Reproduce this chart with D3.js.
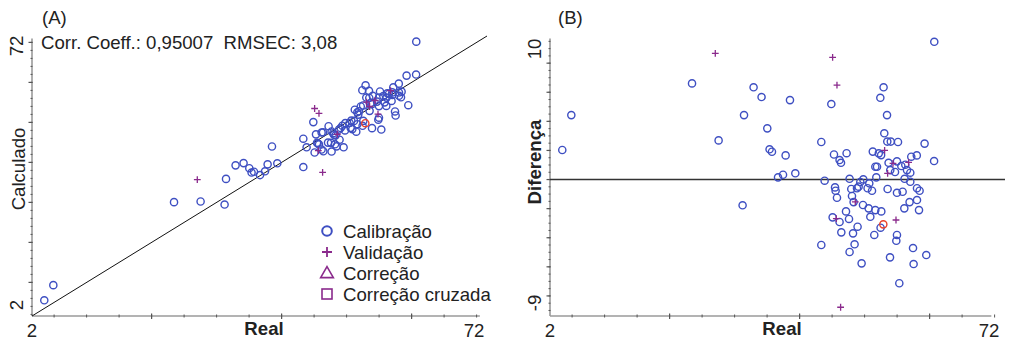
<!DOCTYPE html>
<html>
<head>
<meta charset="utf-8">
<script src="https://cdn.jsdelivr.net/npm/d3@7"></script>
<style>
  body { margin: 0; background: #fff; }
  svg { font-family: "Liberation Sans", Arial, sans-serif; }
</style>
</head>
<body>
<svg id="chart" width="1015" height="340"></svg>
<script>
// calibration samples: reference value, predicted value, difference (pred - ref)
var realCal = [60.72, 23.45, 32.92, 52.92, 34.15, 52.42, 38.52, 44.88, 4.88, 31.45,
  53.45, 35.03, 53.03, 27.54, 43.34, 53.49, 54.03, 55.14, 59.23, 3.49,
  35.38, 35.75, 37.85, 45.29, 47.23, 51.26, 52.18, 52.54, 46.15, 46.37,
  53.69, 54.98, 57.18, 58.03, 60.69, 51.65, 51.91, 53.95, 54.68, 55.65,
  56.26, 56.52, 57.03, 36.68, 37.45, 39.34, 43.85, 47.69, 49.80, 49.34,
  50.72, 51.80, 56.15, 57.03, 45.45, 45.54, 45.75, 47.95, 48.83, 49.08,
  50.46, 51.14, 53.54, 54.98, 55.85, 58.06, 58.46, 48.06, 48.31, 49.75,
  50.62, 51.65, 52.57, 47.14, 56.92, 58.06, 56.11, 58.37, 50.88, 45.08,
  46.15, 47.60, 52.46, 48.92, 46.42, 48.22, 51.49, 54.98, 54.88, 43.34,
  48.46, 47.69, 57.45, 59.49, 53.91, 49.54, 57.54, 55.34, 31.23];
var calcCal = [70.19, 30.06, 39.26, 59.26, 39.82, 58.04, 43.98, 50.07, 9.31, 35.88,
  57.88, 38.55, 56.21, 30.23, 45.92, 56.10, 56.64, 57.72, 61.70, 5.52,
  37.46, 37.66, 39.51, 47.01, 49.04, 53.18, 53.98, 54.22, 47.49, 47.52,
  54.84, 56.23, 58.75, 59.69, 61.96, 52.53, 52.79, 54.60, 55.20, 56.58,
  57.28, 57.17, 57.50, 36.83, 37.78, 39.77, 43.77, 47.74, 49.81, 49.17,
  50.46, 51.95, 56.20, 56.88, 44.91, 44.77, 44.50, 47.30, 48.23, 48.59,
  49.86, 50.37, 52.89, 54.07, 55.01, 57.46, 57.69, 46.93, 46.76, 48.00,
  48.64, 49.55, 50.38, 44.95, 55.37, 56.65, 54.13, 56.27, 48.32, 42.48,
  43.23, 44.89, 49.15, 45.68, 42.79, 44.52, 47.68, 51.17, 50.67, 38.84,
  44.01, 42.71, 52.74, 54.30, 48.56, 43.78, 51.73, 48.21, 29.46];
var diffCal = [9.47, 6.61, 6.34, 6.34, 5.67, 5.62, 5.46, 5.19, 4.43, 4.43,
  4.43, 3.52, 3.18, 2.69, 2.58, 2.61, 2.61, 2.58, 2.47, 2.03,
  2.08, 1.91, 1.66, 1.72, 1.81, 1.92, 1.80, 1.68, 1.34, 1.15,
  1.15, 1.25, 1.57, 1.66, 1.27, 0.88, 0.88, 0.65, 0.52, 0.93,
  1.02, 0.65, 0.47, 0.15, 0.33, 0.43, -0.08, 0.05, 0.01, -0.17,
  -0.26, 0.15, 0.05, -0.15, -0.54, -0.77, -1.25, -0.65, -0.60, -0.49,
  -0.60, -0.77, -0.65, -0.91, -0.84, -0.60, -0.77, -1.13, -1.55, -1.75,
  -1.98, -2.10, -2.19, -2.19, -1.55, -1.41, -1.98, -2.10, -2.56, -2.60,
  -2.92, -2.71, -3.31, -3.24, -3.63, -3.70, -3.81, -3.81, -4.21, -4.50,
  -4.45, -4.98, -4.71, -5.19, -5.35, -5.76, -5.81, -7.13, -1.77];

// validation samples
var realVal = [27.03, 45.08, 45.75, 53.08, 54.37, 56.77, 53.54, 48.57, 45.65, 54.83, 46.31];
var calcVal = [35.70, 53.48, 52.24, 55.09, 55.48, 57.95, 53.97, 47.04, 42.96, 52.05, 37.53];
var diffVal = [8.67, 8.40, 6.49, 2.01, 1.11, 1.18, 0.43, -1.53, -2.69, -2.78, -8.78];

// highlighted sample (red circle)
var realMark = [52.88];
var calcMark = [49.80];
var diffMark = [-3.08];

var legendLabels = ['Calibração', 'Validação', 'Correção', 'Correção cruzada'];
var realTickLabels = ['2', '72'];
var calcTickLabels = ['2', '72'];
var diffTickLabels = ['-9', '10'];

var blue = '#3e4fc2', purple = '#8a2a8c', red = '#e8412c';
var axisColor = '#9a9a9a', tickColor = '#555', textColor = '#222';

var svg = d3.select('#chart');

var xA = d3.scaleLinear().domain([1.6, 71.6]).range([32, 487]);
var yA = d3.scaleLinear().domain([1.6, 71.6]).range([316, 36]);
var xB = d3.scaleLinear().domain([1.6, 71.6]).range([550, 1005]);
var yB = d3.scaleLinear().domain([-9.38, 9.73]).range([316, 38]);

var xMinor = d3.range(5, 71, 5), xMajor = [20, 40, 60];

var _xAxis = function (x, y0, xEnd) {
  var g = svg.append('g').attr('transform', 'translate(0,' + y0 + ')');
  g.append('line')
    .attr('x1', x.range()[0]).attr('x2', x(xEnd))
    .attr('stroke', axisColor).attr('stroke-width', 1.6);
  g.selectAll('.minor').data(xMinor).enter().append('line')
    .attr('x1', x).attr('x2', x)
    .attr('y1', -1.5).attr('y2', 1.5)
    .attr('stroke', tickColor).attr('stroke-width', 1);
  g.selectAll('.major').data(xMajor).enter().append('line')
    .attr('x1', x).attr('x2', x)
    .attr('y1', -2.5).attr('y2', 3)
    .attr('stroke', tickColor).attr('stroke-width', 1.2);
};

var _yAxis = function (y, x0, minor, major, yEnd) {
  var g = svg.append('g').attr('transform', 'translate(' + x0 + ',0)');
  g.append('line')
    .attr('y1', y.range()[0]).attr('y2', y(yEnd))
    .attr('stroke', axisColor).attr('stroke-width', 1.6);
  g.selectAll('.minor').data(minor).enter().append('line')
    .attr('y1', y).attr('y2', y)
    .attr('x1', -1.5).attr('x2', 0.5)
    .attr('stroke', tickColor).attr('stroke-width', 1);
  g.selectAll('.major').data(major).enter().append('line')
    .attr('y1', y).attr('y2', y)
    .attr('x1', -3.5).attr('x2', 0.5)
    .attr('stroke', tickColor).attr('stroke-width', 1.2);
};

var _text = function (x, y, str, opts) {
  opts = opts || {};
  var t = svg.append('text')
    .attr('x', x).attr('y', y)
    .attr('fill', textColor)
    .style('font-size', (opts.size || 18.6) + 'px')
    .style('white-space', 'pre')
    .attr('text-anchor', opts.anchor || 'start')
    .text(str);
  if (opts.bold) t.style('font-weight', 'bold');
  if (opts.rotate) t.attr('transform', 'rotate(-90,' + x + ',' + y + ')');
  return t;
};

var _plus = function (cx, cy, s) {
  return 'M' + (cx - s) + ',' + cy + 'H' + (cx + s) + 'M' + cx + ',' + (cy - s) + 'V' + (cy + s);
};

var _points = function (x, y, xs, ys, color) {
  svg.append('g').selectAll('circle').data(xs).enter().append('circle')
    .attr('cx', function (d) { return x(d); })
    .attr('cy', function (d, i) { return y(ys[i]); })
    .attr('r', 3.6)
    .attr('fill', 'none')
    .attr('stroke', color)
    .attr('stroke-width', 1.4);
};

var _pluses = function (x, y, xs, ys) {
  svg.append('g').selectAll('path').data(xs).enter().append('path')
    .attr('d', function (d, i) { return _plus(x(d), y(ys[i]), 3.4); })
    .attr('stroke', purple)
    .attr('stroke-width', 1.3)
    .attr('fill', 'none');
};

// ---------- panel A ----------
_xAxis(xA, 316, 70.5);
_yAxis(yA, 32, d3.range(2, 71, 2), d3.range(10, 71, 10), 71);

svg.append('line')
  .attr('x1', xA(1.6)).attr('y1', yA(1.6))
  .attr('x2', xA(71.6)).attr('y2', yA(71.6))
  .attr('stroke', '#111').attr('stroke-width', 1);

_points(xA, yA, realCal, calcCal, blue);
_pluses(xA, yA, realVal, calcVal);
_points(xA, yA, realMark, calcMark, red);

_text(42, 24, '(A)');
_text(41, 49, 'Corr. Coeff.: 0,95007  RMSEC: 3,08');
_text(xA(1.6), 337, realTickLabels[0], { anchor: 'middle' });
_text(474, 337, realTickLabels[1], { anchor: 'middle' });
_text(264, 335, 'Real', { anchor: 'middle', bold: true });
_text(23, 46, calcTickLabels[1], { anchor: 'middle', rotate: true });
_text(23, 305, calcTickLabels[0], { anchor: 'middle', rotate: true });
_text(25, 169, 'Calculado', { anchor: 'middle', rotate: true });

// legend
var legRows = [231, 252, 273, 294];
var lg = svg.append('g');
lg.append('circle').attr('cx', 327).attr('cy', legRows[0]).attr('r', 4.8)
  .attr('fill', 'none').attr('stroke', blue).attr('stroke-width', 2);
lg.append('path').attr('d', _plus(327, legRows[1], 5))
  .attr('stroke', purple).attr('stroke-width', 1.8).attr('fill', 'none');
lg.append('path').attr('d', d3.symbol(d3.symbolTriangle, 70)())
  .attr('transform', 'translate(327,' + (legRows[2] + 1) + ')')
  .attr('fill', 'none').attr('stroke', purple).attr('stroke-width', 1.6);
lg.append('rect').attr('x', 322).attr('y', legRows[3] - 5).attr('width', 10).attr('height', 10)
  .attr('fill', 'none').attr('stroke', purple).attr('stroke-width', 1.6);
legendLabels.forEach(function (l, i) {
  _text(343, legRows[i] + 6.5, l);
});

// ---------- panel B ----------
_xAxis(xB, 316, 69.5);
_yAxis(yB, 550, d3.range(-9, 9.6, 0.5), d3.range(-8, 8.1, 2), 9.7);

svg.append('line')
  .attr('x1', xB(1.6)).attr('x2', xB(71.6))
  .attr('y1', yB(0)).attr('y2', yB(0))
  .attr('stroke', '#333').attr('stroke-width', 1.4);

_points(xB, yB, realCal, diffCal, blue);
_pluses(xB, yB, realVal, diffVal);
_points(xB, yB, realMark, diffMark, red);

_text(558, 24, '(B)');
_text(xB(1.6), 337, realTickLabels[0], { anchor: 'middle' });
_text(989, 337, realTickLabels[1], { anchor: 'middle' });
_text(782, 335, 'Real', { anchor: 'middle', bold: true });
_text(541, 49, diffTickLabels[1], { anchor: 'middle', rotate: true });
_text(541, 303, diffTickLabels[0], { anchor: 'middle', rotate: true });
_text(541, 162, 'Diferença', { anchor: 'middle', bold: true, rotate: true });
</script>
</body>
</html>
